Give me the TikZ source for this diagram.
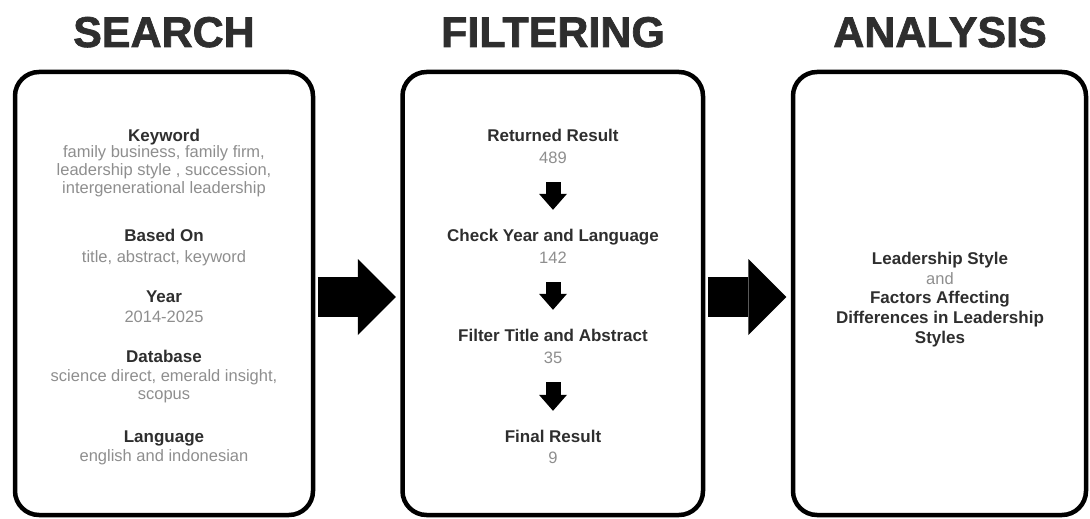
\documentclass[tikz,border=0pt]{standalone}
\usepackage{fontspec}
\setmainfont{Liberation Sans}
\newfontfamily\phasefont[FakeBold=1.6]{Liberation Sans Bold}
\usetikzlibrary{arrows.meta}

\definecolor{inkdark}{HTML}{2E2E2E}
\definecolor{inklight}{HTML}{8E8E8E}

\tikzset{
  panel/.style={draw=black, line width=4.5pt, rounded corners=24pt,
    minimum width=#1, minimum height=443pt, inner sep=0pt},
  phase/.style={anchor=base, inner sep=0pt, text=inkdark,
    font=\fontsize{43}{48}\phasefont},
  head/.style={anchor=base, inner sep=0pt, text height=12pt, text depth=4pt,
    text=inkdark, font=\fontsize{17}{20}\selectfont\bfseries},
  detail/.style={anchor=base, inner sep=0pt, text height=12pt, text depth=4pt,
    text=inklight, font=\fontsize{16.5}{19}\selectfont},
  bigarrow/.style={line width=40pt, shorten <=2.5pt, shorten >=4.5pt,
    -{Triangle[length=38pt,width=76pt,line width=0pt]}},
  downarrow/.style={line width=15pt, shorten <=15pt, shorten >=19pt,
    -{Triangle[length=16pt,width=28pt,line width=0pt]}}
}

\begin{document}
\begin{tikzpicture}[x=1pt,y=-1pt]
\useasboundingbox (0,0) rectangle (1090,519);

% columns
\node[panel=298pt] (search) at (164,293.5) {};
\node[panel=300.5pt] (filter) at (552.75,293.5) {};
\node[panel=293pt] (analysis) at (939.5,293.5) {};

\node[phase] (searchtitle) at (164,47) {SEARCH};
\node[phase] (filtertitle) at (553,47) {FILTERING};
\node[phase] (analysistitle) at (940,47) {ANALYSIS};

% search
\node[head] (keyword) at (164,141) {Keyword};
\node[detail] (kw1) at (164,157) {family business, family firm,};
\node[detail] (kw2) at (164,175) {leadership style , succession,};
\node[detail] (kw3) at (164,193) {intergenerational leadership};
\node[head] (basedon) at (164,241) {Based On};
\node[detail] (bo1) at (164,262) {title, abstract, keyword};
\node[head] (year) at (164,302) {Year};
\node[detail] (yr1) at (164,322) {2014-2025};
\node[head] (database) at (164,362) {Database};
\node[detail] (db1) at (164,381) {science direct, emerald insight,};
\node[detail] (db2) at (164,399) {scopus};
\node[head] (language) at (164,442) {Language};
\node[detail] (lg1) at (164,461) {english and indonesian};

% filtering
\node[head] (returned) at (553,141) {Returned Result};
\node[detail] (n489) at (553,163) {489};
\node[head] (checkyear) at (553,241) {Check Year and Language};
\node[detail] (n142) at (553,263) {142};
\node[head] (filtertitleabs) at (553,341) {Filter Title and Abstract};
\node[detail] (n35) at (553,363) {35};
\node[head] (final) at (553,442) {Final Result};
\node[detail] (n9) at (553,463) {9};

\draw[downarrow] (n489.south) -- (checkyear.north);
\draw[downarrow] (n142.south) -- (filtertitleabs.north);
\draw[downarrow] (n35.south) -- (final.north);

% analysis
\node[head] (style) at (940,264) {Leadership Style};
\node[detail] (and) at (940,284) {and};
\node[head] (factors1) at (940,303) {Factors Affecting};
\node[head] (factors2) at (940,323) {Differences in Leadership};
\node[head] (factors3) at (940,343) {Styles};

\draw[bigarrow] ([yshift=-3.5pt]search.east) -- ([yshift=-3.5pt]filter.west);
\draw[bigarrow] ([yshift=-3.5pt]filter.east) -- ([yshift=-3.5pt]analysis.west);
\end{tikzpicture}
\end{document}
